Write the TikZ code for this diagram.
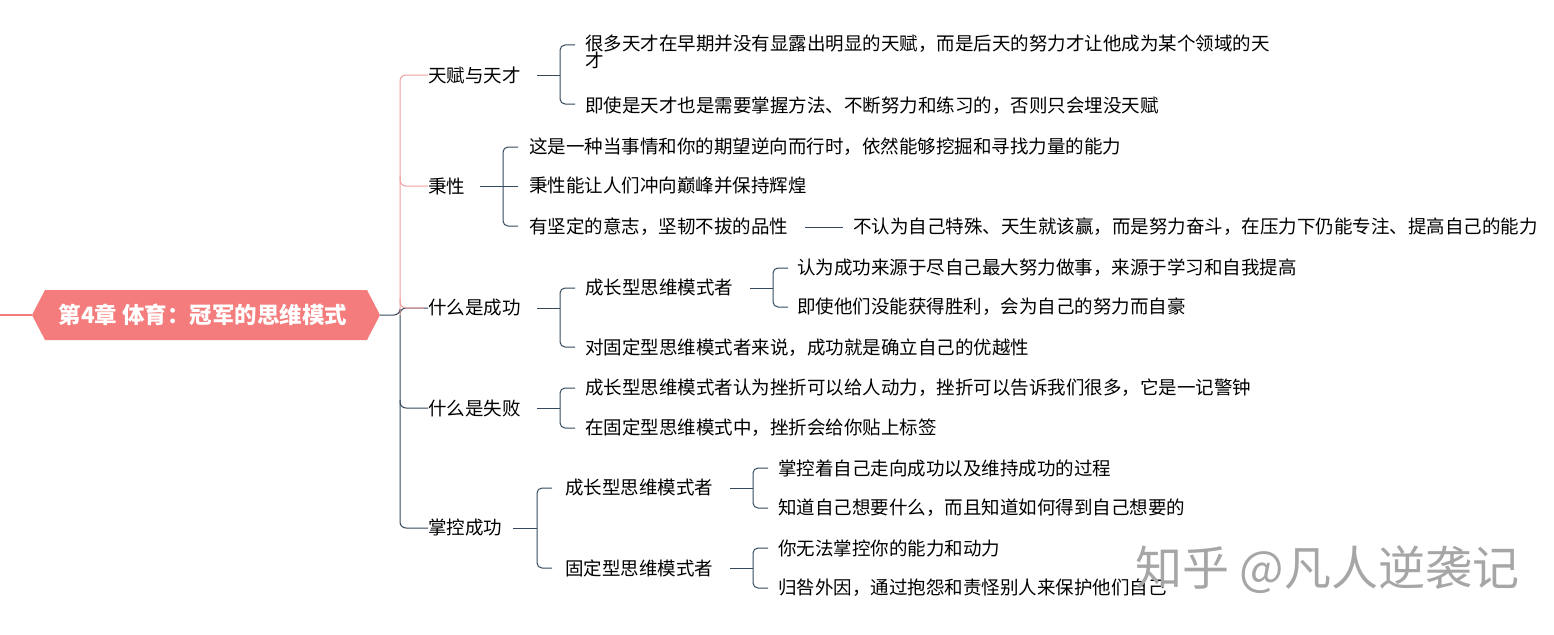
\documentclass[tikz,border=0pt]{standalone}
\usepackage{fontspec}
\setmainfont{Noto Sans CJK SC}
\usetikzlibrary{shapes.geometric}
\definecolor{rootc}{HTML}{F47C7C}
\definecolor{pinkl}{HTML}{F0A0A0}
\definecolor{navy}{HTML}{34495E}
\tikzset{
 txt/.style={anchor=west,inner sep=0pt,font=\fontsize{18.5}{21}\selectfont,text=black},
 br/.style={draw=navy,line width=1pt,rounded corners=5pt},
 lnk/.style={draw=navy,line width=1pt},
 plink/.style={draw=pinkl,line width=1pt,rounded corners=6pt},
 nlink/.style={draw=navy,line width=1pt,rounded corners=6pt},
}
\begin{document}
\begin{tikzpicture}[x=1pt,y=-1pt]
\useasboundingbox (0,0) rectangle (1554,634);
% root
\draw[rootc,line width=1.2pt] (0,315) -- (32,315);
\fill[rootc] (32,315) -- (45,290) -- (367,290) -- (380,315) -- (367,340) -- (45,340) -- cycle;
\node[inner sep=0pt,text=white,font=\fontsize{22.5}{26}\selectfont\bfseries] (root) at (203,315) {第4章 体育：冠军的思维模式};
\coordinate (rj) at (380,315);
% level 1
\node[txt] (a) at (428,75) {天赋与天才};
\node[txt] (b) at (428,186) {秉性};
\node[txt] (c) at (428,308) {什么是成功};
\node[txt] (d) at (428,408) {什么是失败};
\node[txt] (e) at (428,528) {掌控成功};
\draw[nlink] (rj) -- (400,315) -- (400,308) -- (c.west);
\draw[plink] (400,315) -- (400,75) -- (a.west);
\draw[plink] (400,176) -- (400,186) -- (b.west);
\draw[plink] (400,298) -- (400,308) -- ([xshift=-4pt]c.west);
\draw[nlink] (400,315) -- (400,408) -- (d.west);
\draw[nlink] (400,400) -- (400,528) -- (e.west);
% a
\node[txt] (a1) at (585,54) {\begin{tabular}{@{}l@{}}很多天才在早期并没有显露出明显的天赋，而是后天的努力才让他成为某个领域的天\\[-5pt]才\end{tabular}};
\node[txt] (a2) at (585,106) {即使是天才也是需要掌握方法、不断努力和练习的，否则只会埋没天赋};
\draw[lnk] (537,75) -- (560,75);
\draw[br] (575,45) -- (560,45) -- (560,104) -- (575,104);
% b
\node[txt] (b1) at (529,147) {这是一种当事情和你的期望逆向而行时，依然能够挖掘和寻找力量的能力};
\node[txt] (b2) at (529,186) {秉性能让人们冲向巅峰并保持辉煌};
\node[txt] (b3) at (529,227) {有坚定的意志，坚韧不拔的品性};
\node[txt] (b4) at (853,227) {不认为自己特殊、天生就该赢，而是努力奋斗，在压力下仍能专注、提高自己的能力};
\draw[lnk] (480,186) -- (518,186);
\draw[br] (518,147) -- (503,147) -- (503,226) -- (518,226);
\draw[lnk] (805,227) -- (843,227);
% c
\node[txt] (c1) at (585,288) {成长型思维模式者};
\node[txt] (c2) at (585,348) {对固定型思维模式者来说，成功就是确立自己的优越性};
\node[txt] (c11) at (797,268) {认为成功来源于尽自己最大努力做事，来源于学习和自我提高};
\node[txt] (c12) at (797,307) {即使他们没能获得胜利，会为自己的努力而自豪};
\draw[lnk] (537,308) -- (560,308);
\draw[br] (575,288) -- (560,288) -- (560,347) -- (575,347);
\draw[lnk] (750,288) -- (773,288);
\draw[br] (788,268) -- (773,268) -- (773,307) -- (788,307);
% d
\node[txt] (d1) at (585,388) {成长型思维模式者认为挫折可以给人动力，挫折可以告诉我们很多，它是一记警钟};
\node[txt] (d2) at (585,428) {在固定型思维模式中，挫折会给你贴上标签};
\draw[lnk] (537,408) -- (560,408);
\draw[br] (575,388) -- (560,388) -- (560,428) -- (575,428);
% e
\node[txt] (e1) at (565,488) {成长型思维模式者};
\node[txt] (e2) at (565,568) {固定型思维模式者};
\node[txt] (e11) at (778,468) {掌控着自己走向成功以及维持成功的过程};
\node[txt] (e12) at (778,508) {知道自己想要什么，而且知道如何得到自己想要的};
\node[txt] (e21) at (778,548) {你无法掌控你的能力和动力};
\node[txt] (e22) at (778,588) {归咎外因，通过抱怨和责怪别人来保护他们自己};
\draw[lnk] (513,528) -- (537,528);
\draw[br] (552,488) -- (537,488) -- (537,568) -- (552,568);
\draw[lnk] (730,488) -- (753,488);
\draw[br] (768,468) -- (753,468) -- (753,508) -- (768,508);
\draw[lnk] (730,568) -- (753,568);
\draw[br] (768,548) -- (753,548) -- (753,588) -- (768,588);
% watermark
\node[anchor=west,inner sep=0pt,text=black!35,font=\fontsize{47}{50}\selectfont] (wm) at (1135,570) {知乎 @凡人逆袭记};
\end{tikzpicture}
\end{document}
